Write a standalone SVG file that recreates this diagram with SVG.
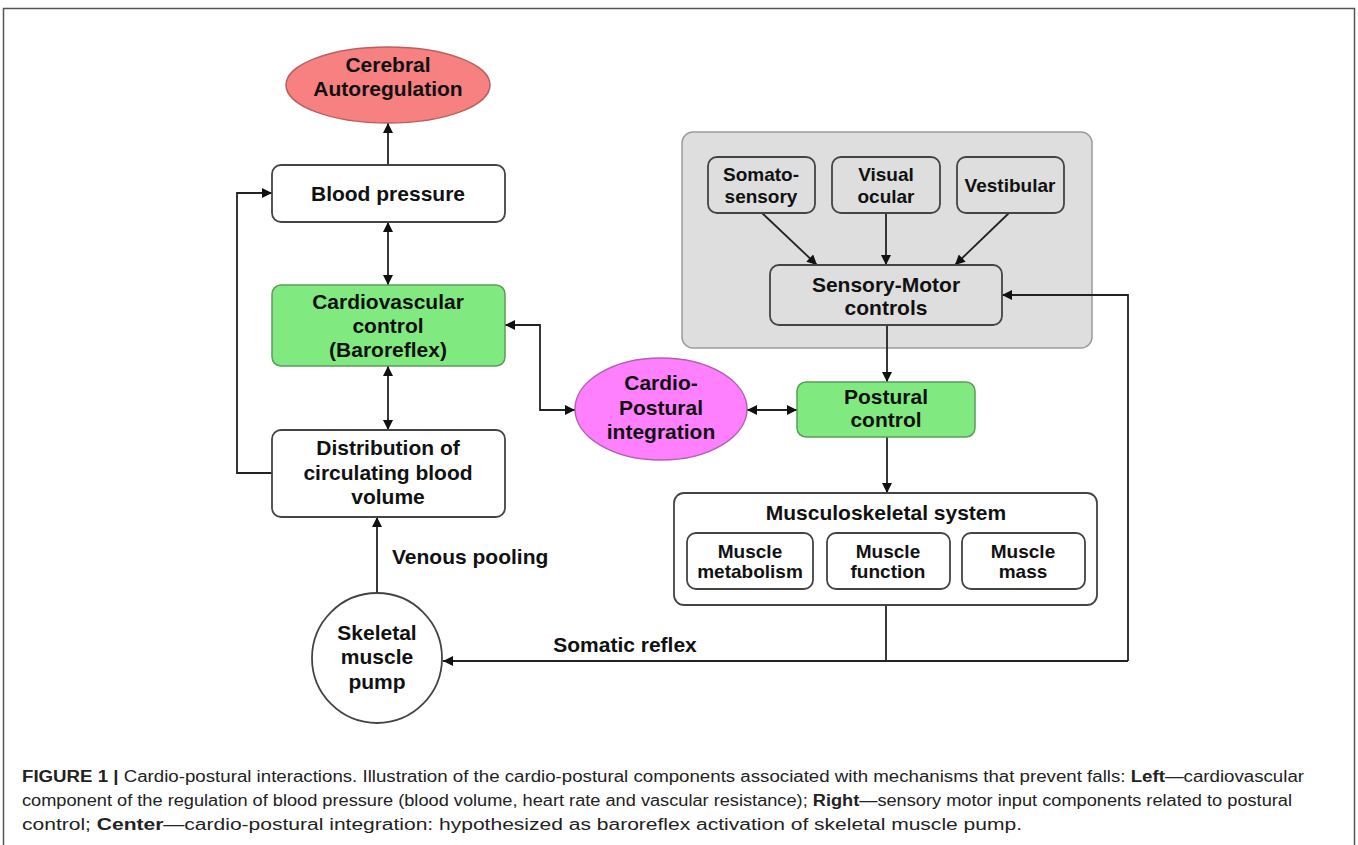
<svg xmlns="http://www.w3.org/2000/svg" width="1358" height="845" viewBox="0 0 1358 845">
<style>
  .t{font-family:"Liberation Sans",Arial,sans-serif;font-weight:bold;font-size:21px;fill:#111;text-anchor:middle}
  .s{font-family:"Liberation Sans",Arial,sans-serif;font-weight:bold;font-size:19px;fill:#111;text-anchor:middle}
  .box{fill:#fff;stroke:#444;stroke-width:1.8}
  .sub{fill:none;stroke:#444;stroke-width:1.8}
  .green{fill:#80ea80;stroke:#5c9c5c;stroke-width:1.5}
  .con{fill:none;stroke:#222;stroke-width:1.8}
  .cap{font-family:"Liberation Sans",Arial,sans-serif;font-size:16px;fill:#222}
</style>
<defs>
  <marker id="ah" viewBox="0 0 10 10" refX="10" refY="5" markerWidth="11" markerHeight="10" markerUnits="userSpaceOnUse" orient="auto-start-reverse">
    <path d="M0,0 L10,5 L0,10 z" fill="#111"/>
  </marker>
</defs>
<rect x="3.5" y="8.5" width="1351" height="840" fill="#fff" stroke="#555" stroke-width="1.5"/>

<g id="sensory-group">
  <rect x="682" y="132" width="410" height="216" rx="11" fill="#dedede" stroke="#9c9c9c" stroke-width="1.5"/>
</g>

<g id="connectors">
  <path class="con" d="M388,165 L388,123" marker-end="url(#ah)"/>
  <path class="con" d="M388,222 L388,285" marker-start="url(#ah)" marker-end="url(#ah)"/>
  <path class="con" d="M388,366 L388,430" marker-start="url(#ah)" marker-end="url(#ah)"/>
  <path class="con" d="M272,473 L237,473 L237,193 L272,193" marker-end="url(#ah)"/>
  <path class="con" d="M505,325 L540,325 L540,410 L575,410" marker-start="url(#ah)" marker-end="url(#ah)"/>
  <path class="con" d="M747,410 L797,410" marker-start="url(#ah)" marker-end="url(#ah)"/>
  <path class="con" d="M887,325 L887,382" marker-end="url(#ah)"/>
  <path class="con" d="M887,437 L887,493" marker-end="url(#ah)"/>
  <path class="con" d="M762,213 L817,265" marker-end="url(#ah)"/>
  <path class="con" d="M886,213 L886,265" marker-end="url(#ah)"/>
  <path class="con" d="M1009,213 L955,265" marker-end="url(#ah)"/>
  <path class="con" d="M886,605 L886,661"/>
  <path class="con" d="M1128,661 L1128,295 L1002,295" marker-end="url(#ah)"/>
  <path class="con" d="M1128,661 L443,661" marker-end="url(#ah)"/>
  <path class="con" d="M377,593 L377,517" marker-end="url(#ah)"/>
  <text class="t" x="392" y="564" style="text-anchor:start">Venous pooling</text>
  <text class="t" x="625" y="652">Somatic reflex</text>
</g>

<g id="cerebral">
  <ellipse cx="388" cy="85" rx="102" ry="38" fill="#f78080" stroke="#b86060" stroke-width="1.5"/>
  <text class="t" x="388" y="72">Cerebral</text>
  <text class="t" x="388" y="96">Autoregulation</text>
</g>
<g id="blood-pressure">
  <rect class="box" x="272" y="165" width="233" height="57" rx="9"/>
  <text class="t" x="388" y="201">Blood pressure</text>
</g>
<g id="cardiovascular">
  <rect class="green" x="272" y="285" width="233" height="81" rx="9"/>
  <text class="t" x="388" y="309">Cardiovascular</text>
  <text class="t" x="388" y="333">control</text>
  <text class="t" x="388" y="357">(Baroreflex)</text>
</g>
<g id="distribution">
  <rect class="box" x="272" y="430" width="233" height="87" rx="9"/>
  <text class="t" x="388" y="455">Distribution of</text>
  <text class="t" x="388" y="480">circulating blood</text>
  <text class="t" x="388" y="504">volume</text>
</g>
<g id="cardio-postural">
  <ellipse cx="661" cy="409" rx="86" ry="51" fill="#ff80ff" stroke="#b060b0" stroke-width="1.5"/>
  <text class="t" x="661" y="390">Cardio-</text>
  <text class="t" x="661" y="415">Postural</text>
  <text class="t" x="661" y="439">integration</text>
</g>
<g id="postural">
  <rect class="green" x="797" y="382" width="178" height="55" rx="9"/>
  <text class="t" x="886" y="404">Postural</text>
  <text class="t" x="886" y="427">control</text>
</g>
<g id="somatosensory">
  <rect class="sub" x="708" y="157" width="107" height="56" rx="9"/>
  <text class="s" x="761" y="181">Somato-</text>
  <text class="s" x="761" y="203">sensory</text>
</g>
<g id="visual">
  <rect class="sub" x="832" y="157" width="108" height="56" rx="9"/>
  <text class="s" x="886" y="181">Visual</text>
  <text class="s" x="886" y="203">ocular</text>
</g>
<g id="vestibular">
  <rect class="sub" x="957" y="157" width="107" height="56" rx="9"/>
  <text class="s" x="1010" y="192">Vestibular</text>
</g>
<g id="sensory-motor">
  <rect class="sub" x="770" y="265" width="232" height="60" rx="9"/>
  <text class="t" x="886" y="292">Sensory-Motor</text>
  <text class="t" x="886" y="315">controls</text>
</g>
<g id="musculoskeletal">
  <rect class="box" x="674" y="493" width="423" height="112" rx="10"/>
  <text class="t" x="886" y="520">Musculoskeletal system</text>
</g>
<g id="muscle-metabolism">
  <rect class="sub" x="687" y="533" width="126" height="56" rx="9"/>
  <text class="s" x="750" y="558">Muscle</text>
  <text class="s" x="750" y="578">metabolism</text>
</g>
<g id="muscle-function">
  <rect class="sub" x="827" y="533" width="123" height="56" rx="9"/>
  <text class="s" x="888" y="558">Muscle</text>
  <text class="s" x="888" y="578">function</text>
</g>
<g id="muscle-mass">
  <rect class="sub" x="962" y="533" width="123" height="56" rx="9"/>
  <text class="s" x="1023" y="558">Muscle</text>
  <text class="s" x="1023" y="578">mass</text>
</g>
<g id="skeletal-pump">
  <circle cx="377" cy="658" r="65" fill="#fff" stroke="#444" stroke-width="1.8"/>
  <text class="t" x="377" y="640">Skeletal</text>
  <text class="t" x="377" y="664">muscle</text>
  <text class="t" x="377" y="689">pump</text>
</g>

<g id="caption">
  <text class="cap" x="22" y="782" textLength="1282" lengthAdjust="spacingAndGlyphs"><tspan font-weight="bold">FIGURE 1 |</tspan> Cardio-postural interactions. Illustration of the cardio-postural components associated with mechanisms that prevent falls: <tspan font-weight="bold">Left</tspan>—cardiovascular</text>
  <text class="cap" x="22" y="806" textLength="1270" lengthAdjust="spacingAndGlyphs">component of the regulation of blood pressure (blood volume, heart rate and vascular resistance); <tspan font-weight="bold">Right</tspan>—sensory motor input components related to postural</text>
  <text class="cap" x="22" y="830" textLength="1000" lengthAdjust="spacingAndGlyphs">control; <tspan font-weight="bold">Center</tspan>—cardio-postural integration: hypothesized as baroreflex activation of skeletal muscle pump.</text>
</g>
</svg>
